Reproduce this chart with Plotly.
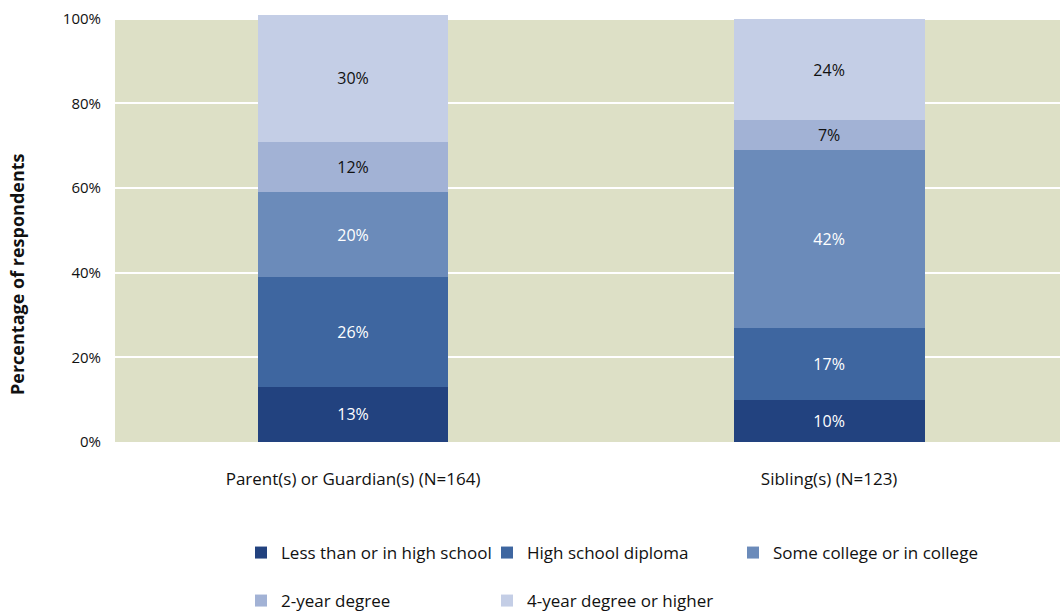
import plotly.graph_objects as go

categories = ["Parent(s) or Guardian(s) (N=164)", "Sibling(s) (N=123)"]
series_names = ["Less than or in high school", "High school diploma",
                "Some college or in college", "2-year degree", "4-year degree or higher"]
less_than_hs = [13, 10]
hs_diploma = [26, 17]
some_college = [20, 42]
two_year = [12, 7]
four_year = [30, 24]
tick_values = [0, 20, 40, 60, 80, 100]
tick_labels = ["0%", "20%", "40%", "60%", "80%", "100%"]

series_values = [less_than_hs, hs_diploma, some_college, two_year, four_year]
colors = ["#22427f", "#3e66a0", "#6b8bba", "#a2b2d5", "#c4cee6"]
text_colors = ["white", "white", "white", "#111111", "#111111"]
legends = ["legend", "legend", "legend", "legend2", "legend2"]

FONT = "Open Sans, sans-serif"

fig = go.Figure()
for name, vals, col, tc, lg in zip(series_names, series_values, colors, text_colors, legends):
    fig.add_trace(go.Bar(
        x=categories, y=vals, name=name,
        marker=dict(color=col, line=dict(width=0)),
        text=[f"{v}%" for v in vals], textposition="inside",
        insidetextanchor="middle",
        textfont=dict(color=tc, size=16, family=FONT),
        legend=lg,
    ))

# plot background only up to 100%
fig.add_shape(type="rect", xref="paper", yref="y", x0=0, x1=1, y0=0, y1=100,
              fillcolor="#dde0c6", line=dict(width=0), layer="below")

# y-axis title (placed like the reference, lower than the plot centre)
fig.add_annotation(text="<b>Percentage of respondents</b>", textangle=-90,
                   xref="paper", yref="paper", x=(17 - 115) / 945, y=(442 - 274) / 427,
                   xanchor="center", yanchor="middle", showarrow=False,
                   font=dict(size=18, family=FONT, color="#111111"))

fig.update_layout(
    barmode="stack",
    bargap=0.599,
    width=1060, height=612,
    margin=dict(l=115, r=0, t=15, b=170, autoexpand=False),
    plot_bgcolor="white",
    paper_bgcolor="white",
    font=dict(family=FONT, size=15, color="#111111"),
    yaxis=dict(range=[0, 100.9], tickvals=tick_values, ticktext=tick_labels,
               showgrid=True, gridcolor="white", gridwidth=1.5, automargin=False,
               zeroline=False, ticks="", tickfont=dict(size=15), ticklabelstandoff=13),
    xaxis=dict(range=[-0.5, 1.485], showgrid=False, ticks="", tickfont=dict(size=17),
               ticklabelstandoff=25, automargin=False),
    legend=dict(orientation="h", xref="container", x=241 / 1060, xanchor="left",
                yref="container", y=1 - 535 / 612, yanchor="top",
                entrywidth=201, entrywidthmode="pixels",
                font=dict(size=17), bgcolor="rgba(0,0,0,0)", traceorder="normal"),
    legend2=dict(orientation="h", xref="container", x=241 / 1060, xanchor="left",
                 yref="container", y=1 - 583 / 612, yanchor="top",
                 entrywidth=201, entrywidthmode="pixels",
                 font=dict(size=17), bgcolor="rgba(0,0,0,0)", traceorder="normal"),
    showlegend=True,
)

fig.write_html("out.html", config={"displayModeBar": False},
               post_script="document.body.style.margin='0px';")
